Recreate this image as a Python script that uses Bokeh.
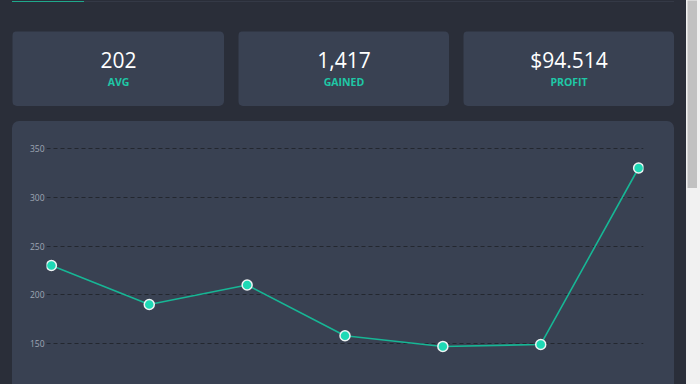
from bokeh.plotting import figure
from bokeh.models import Range1d, FixedTicker, Label, Div
from bokeh.layouts import column, row
from bokeh.embed import file_html
from bokeh.resources import INLINE

# ---- data ----
x_idx = [0, 1, 2, 3, 4, 5, 6]
values = [230, 190, 210, 158, 147, 149, 330]
y_ticks = [150, 200, 250, 300, 350]
stat_values = ["202", "1,417", "$94.514"]
stat_labels = ["AVG", "GAINED", "PROFIT"]

BODY = "#2a2e39"
CARD = "#394152"
TEAL = "#1fc7a6"
LINE = "#17b695"
GRID = "#23272f"
TICK = "#9fa6b4"
FONT = "Open Sans"


def blank(w, h, color, margin=(0, 0, 0, 0), styles=None):
    f = figure(width=w, height=h, output_backend="svg", toolbar_location=None,
               x_axis_location=None, y_axis_location=None, min_border=0,
               x_range=Range1d(0, 1), y_range=Range1d(0, 1),
               border_fill_color=color, background_fill_color=color, outline_line_color=None,
               margin=margin, styles=styles or {})
    f.grid.visible = False
    return f


# top tab strip
tab_active = Div(width=72, height=1, margin=(1, 0, 0, 12),
                 styles={"background-color": "#1fa88c"})
tab_rest = Div(width=590, height=1, margin=(1, 0, 0, 0),
               styles={"background-color": "#343946"})
top = row(tab_active, tab_rest)

# stat cards
card_w = [212, 211, 211]
card_left = [12, 14, 14]
card_h = 75
cards = []
for i in range(3):
    c = blank(card_w[i], card_h, CARD, margin=(29, 0, 0, card_left[i]),
              styles={"border-radius": "5px", "overflow": "hidden"})
    c.add_layout(Label(x=card_w[i] / 2, y=47, x_units="screen", y_units="screen",
                       text=stat_values[i], text_align="center", text_baseline="alphabetic",
                       text_color="#ffffff", text_font=FONT, text_font_size="21px"))
    c.add_layout(Label(x=card_w[i] / 2, y=25, x_units="screen", y_units="screen",
                       text=stat_labels[i], text_align="center", text_baseline="alphabetic",
                       text_color=TEAL, text_font=FONT, text_font_size="10.5px",
                       text_font_style="bold"))
    cards.append(c)

# chart
chart_top = 121
chart_h = 384 - chart_top
frame_top = 140
px_per_unit = 0.975
y_hi = 350 + (148 - frame_top) / px_per_unit
y_lo = y_hi - (384 - frame_top) / px_per_unit
p = figure(width=662, height=chart_h, output_backend="svg", toolbar_location=None,
           x_axis_location=None,
           x_range=Range1d(-0.05, 6.05), y_range=Range1d(y_lo, y_hi),
           min_border_left=34, min_border_right=31, min_border_top=frame_top - chart_top,
           min_border_bottom=0,
           border_fill_color=None, background_fill_color=None, outline_line_color=None,
           margin=(15, 0, 0, 12),
           styles={"border-radius": "7px 7px 0 0", "overflow": "hidden",
                   "background-color": CARD})
p.xgrid.visible = False
p.yaxis.ticker = FixedTicker(ticks=y_ticks)
p.yaxis.axis_line_color = None
p.yaxis.major_tick_line_color = None
p.yaxis.minor_tick_line_color = None
p.yaxis.major_tick_out = 0
p.yaxis.major_tick_in = 0
p.yaxis.major_label_standoff = 2
p.yaxis.major_label_text_color = TICK
p.yaxis.major_label_text_font = FONT
p.yaxis.major_label_text_font_size = "8.5px"
p.ygrid.grid_line_color = GRID
p.ygrid.grid_line_dash = "4 3"
p.ygrid.grid_line_width = 1

p.line(x_idx, values, line_color=LINE, line_width=1.6)
p.scatter(x_idx, values, size=10, fill_color="#1ed9b5", line_color="#eef4f4", line_width=1.5)

main = column(top, row(*cards), p, width=686, height=384, sizing_mode="fixed",
              styles={"background-color": BODY})

# browser scrollbar
thumb = blank(10, 188, "#c1c1c1", margin=(0, 3, 0, 1))
scroll = column(thumb, width=14, height=384, sizing_mode="fixed",
                styles={"background-color": "#f1f1f1"})

layout = row(main, scroll, width=700, height=384, sizing_mode="fixed")

open("out.html", "w").write(file_html(layout, INLINE))
